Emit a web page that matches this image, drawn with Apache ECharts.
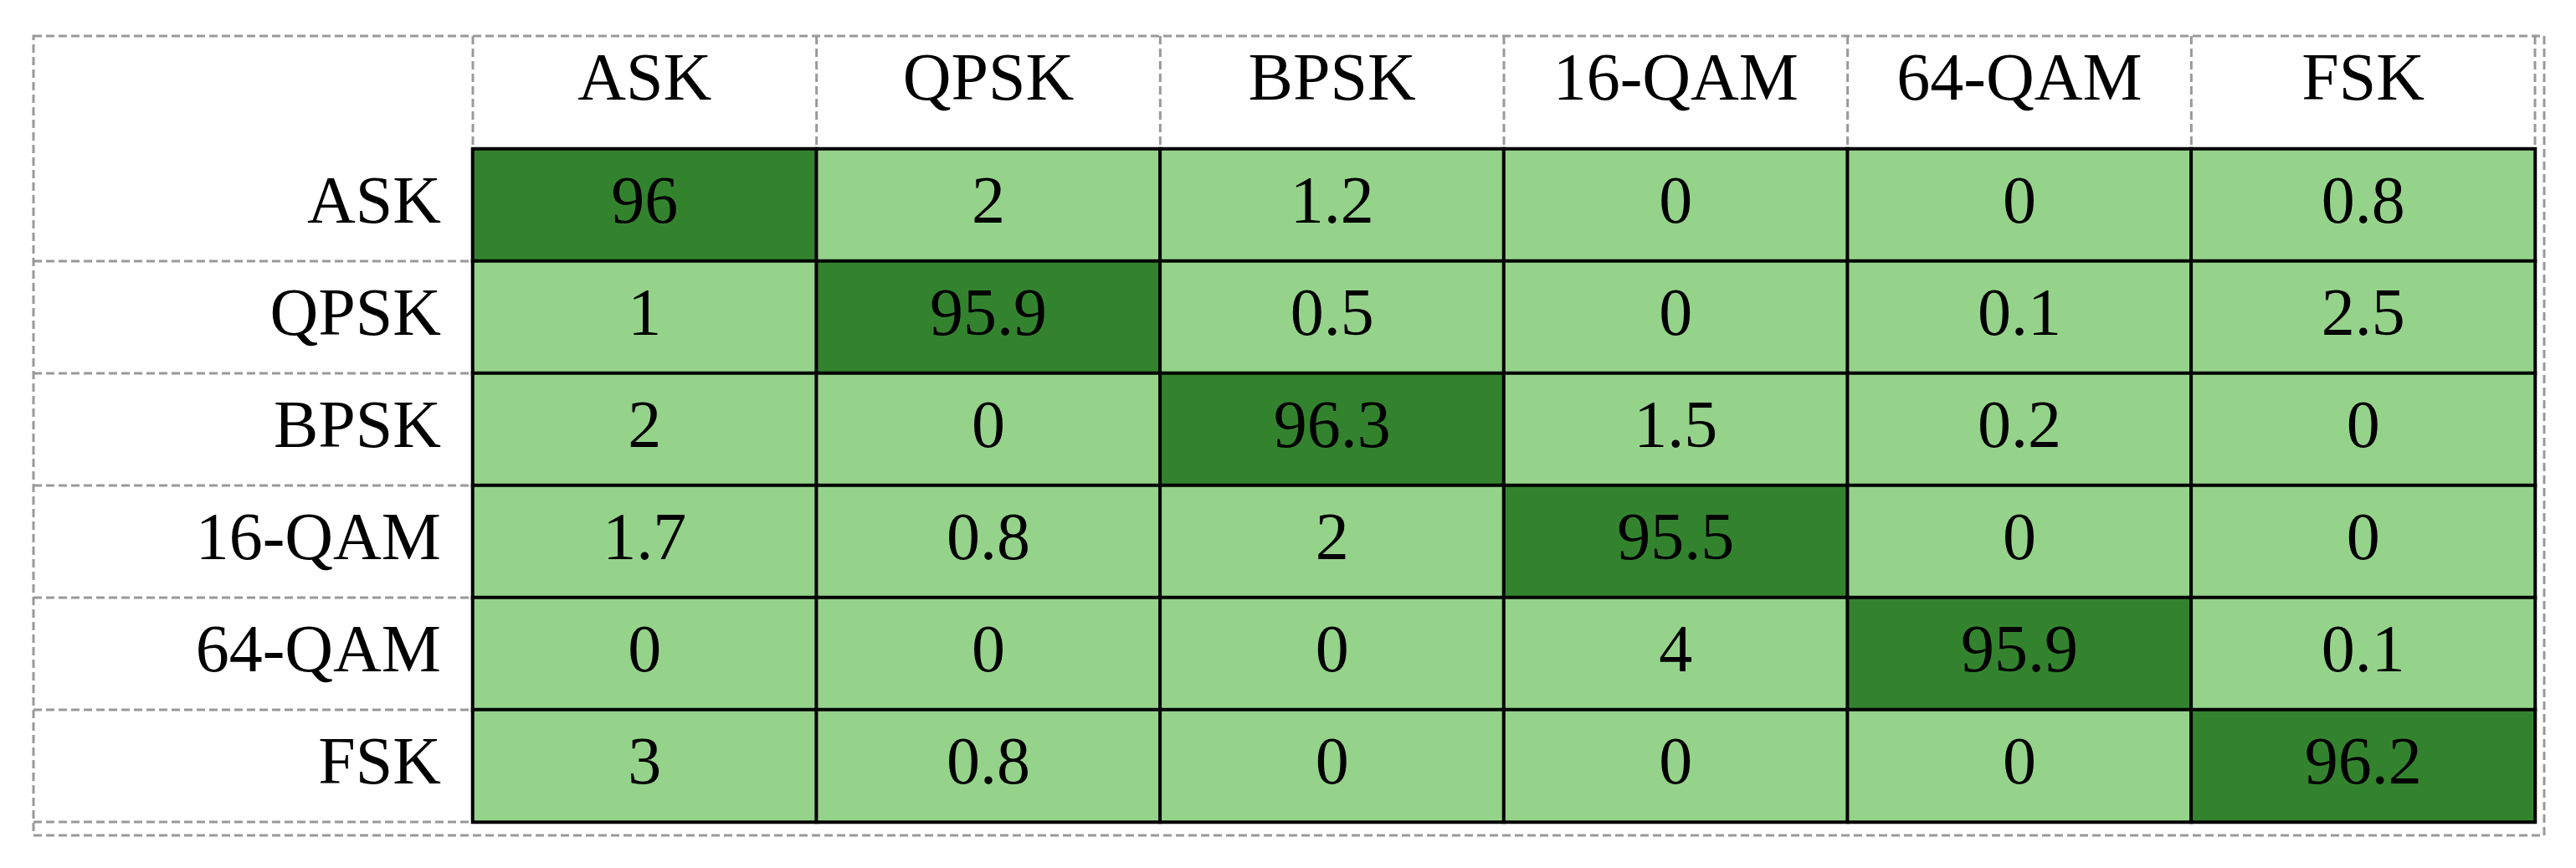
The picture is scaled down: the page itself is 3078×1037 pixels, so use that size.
<!DOCTYPE html><html><head><meta charset="utf-8"><script src="https://cdn.jsdelivr.net/npm/echarts@6/dist/echarts.min.js"></script></head><body style="margin:0;background:#fff"><div id="c" style="width:3078px;height:1037px"></div><script>
const predicted=['ASK','QPSK','BPSK','16-QAM','64-QAM','FSK'];
const actual=['ASK','QPSK','BPSK','16-QAM','64-QAM','FSK'];
const rowASK=[96,2,1.2,0,0,0.8];
const rowQPSK=[1,95.9,0.5,0,0.1,2.5];
const rowBPSK=[2,0,96.3,1.5,0.2,0];
const row16QAM=[1.7,0.8,2,95.5,0,0];
const row64QAM=[0,0,0,4,95.9,0.1];
const rowFSK=[3,0.8,0,0,0,96.2];
const rows=[rowASK,rowQPSK,rowBPSK,row16QAM,row64QAM,rowFSK];
const data=[];rows.forEach((r,i)=>r.forEach((v,j)=>data.push([j,i,v])));
const L=565,T=178,R=3029,B=982,FL=40,FT=43,FR=3040,FB=998;
const cw=(R-L)/6,rh=(B-T)/6;
const dash={stroke:'#999',lineWidth:3,lineDash:[10,5]};
const g=[];
g.push({type:'rect',shape:{x:FL,y:FT,width:FR-FL,height:FB-FT},style:Object.assign({fill:null},dash),silent:true});
for(let j=0;j<=6;j++)g.push({type:'line',shape:{x1:L+j*cw,y1:FT,x2:L+j*cw,y2:T},style:dash});
for(let i=1;i<=6;i++)g.push({type:'line',shape:{x1:FL,y1:T+i*rh,x2:L,y2:T+i*rh},style:dash});
const font='Liberation Serif';
echarts.init(document.getElementById('c')).setOption({
animation:false,
grid:{left:L,top:T,width:R-L,height:B-T},
xAxis:{type:'category',data:predicted,position:'top',axisLine:{show:false},axisTick:{show:false},axisLabel:{fontFamily:font,fontSize:80,color:'#000',margin:40}},
yAxis:{type:'category',data:actual,inverse:true,axisLine:{show:false},axisTick:{show:false},axisLabel:{fontFamily:font,fontSize:80,color:'#000',margin:38}},
visualMap:{show:false,type:'piecewise',pieces:[{gt:50,color:'#33832e'},{lte:50,color:'#95d38b'}]},
graphic:g,
series:[{type:'heatmap',data:data,itemStyle:{borderColor:'#000',borderWidth:4},label:{show:true,fontFamily:font,fontSize:80,color:'#000'}}]
});
</script></body></html>
